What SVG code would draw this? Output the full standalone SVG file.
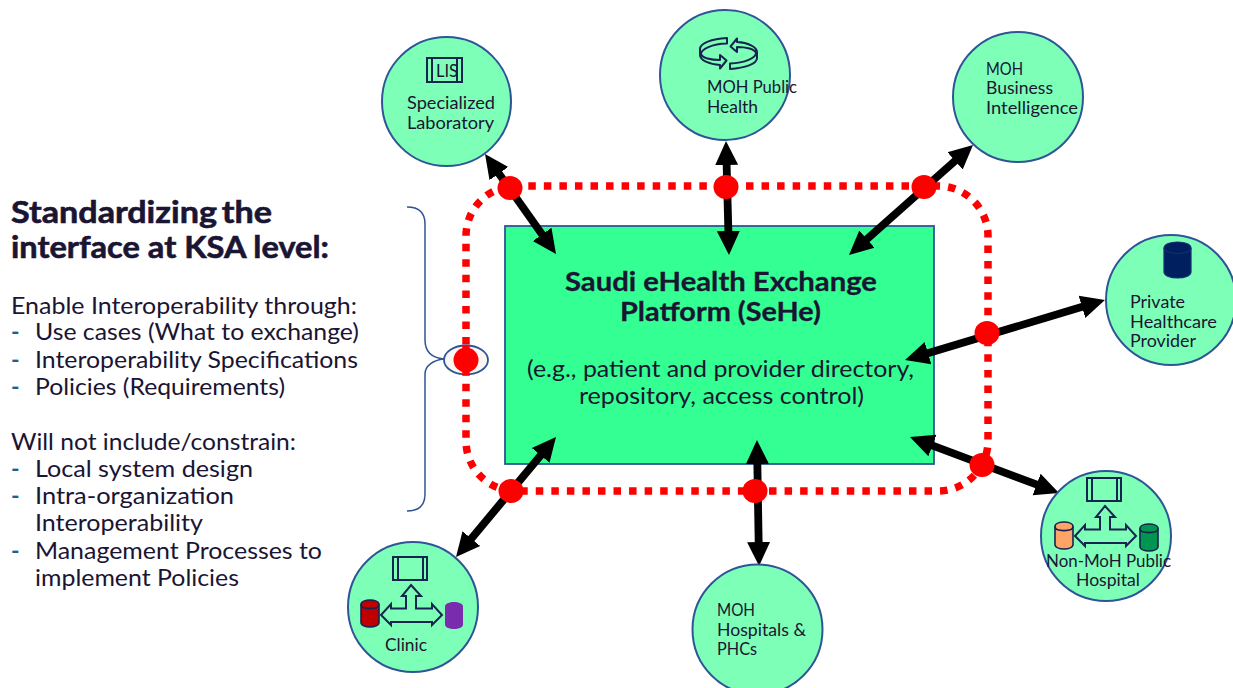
<svg xmlns="http://www.w3.org/2000/svg" xmlns:xlink="http://www.w3.org/1999/xlink" width="1233" height="688" viewBox="0 0 1233 688">
<style>
text{font-family:"Lato","Noto Sans","Liberation Sans",sans-serif;fill:#1a1533}
.c{fill:#7dffb8;stroke:#2f5597;stroke-width:2}
.l{font-size:17px}
.b{font-size:23px}
.m{font-size:23px;fill:#1f5f8f;font-weight:700}
.h{font-size:30px;font-weight:700;stroke:#1a1533;stroke-width:.6}
.t{font-size:27px;font-weight:700;stroke:#1a1533;stroke-width:.3}
.s{font-size:24px}
.i{fill:none;stroke:#16244f;stroke-width:2}
.cy{stroke:#16244f;stroke-width:1.600}
.a{fill:none;stroke:#000;stroke-width:7.800;marker-start:url(#ah);marker-end:url(#ah)}
.d{fill:#ff0000}
</style>
<defs>
<marker id="ah" markerUnits="userSpaceOnUse" markerWidth="26" markerHeight="26" viewBox="0 0 26 26" refX="9" refY="13" orient="auto-start-reverse"><path d="M0,1.500 L24,13 L0,24.500 Z" fill="#000"/></marker>
<g id="hub">
<rect class="i" x="393" y="557" width="34" height="23"/>
<path class="i" d="M398,557V580M423,557V580"/>
<path class="i" d="M411,585L421,596H416V608.500H432V604L442,615L432,625V622H391V625L381,615L391,604V608.500H406V596H402Z"/>
</g>
<g id="cyl"><path d="M0,4.500C0,-1.500 18,-1.500 18,4.500V22.500C18,28.500 0,28.500 0,22.500Z"/><path d="M0,4.500C0,10 18,10 18,4.500" fill="none"/></g>
</defs>
<g id="boundary">
<rect x="466" y="186" width="522" height="305" rx="50" ry="50" fill="none" stroke="#ff0000" stroke-width="7.500" stroke-dasharray="7.500 8.050" stroke-dashoffset="3.250"/>
</g>
<g id="platform">
<rect x="505" y="226" width="429" height="238" fill="#33ff92" stroke="#2f5597" stroke-width="1.800"/>
<text class="t" x="565" y="291" textLength="312" lengthAdjust="spacingAndGlyphs">Saudi eHealth Exchange</text>
<text class="t" x="620" y="321" textLength="201" lengthAdjust="spacingAndGlyphs">Platform (SeHe)</text>
<text class="s" x="527" y="377" textLength="387" lengthAdjust="spacingAndGlyphs">(e.g., patient and provider directory,</text>
<text class="s" x="579" y="404" textLength="285" lengthAdjust="spacingAndGlyphs">repository, access control)</text>
</g>
<g id="connectors">
<path class="a" d="M493.700,166.200L547.300,241.800"/>
<path class="a" d="M726.400,156L728.600,240"/>
<path class="a" d="M961.800,154.900L860.200,245.100"/>
<path class="a" d="M1090.600,304.300L919.400,355.700"/>
<path class="a" d="M1045,487.700L924,442.300"/>
<path class="a" d="M757.200,455L758.800,551"/>
<path class="a" d="M546.400,448.500L465.600,545.500"/>
</g>
<g id="interface-points">
<ellipse class="d" cx="510" cy="188" rx="12.500" ry="12"/>
<ellipse class="d" cx="726" cy="187" rx="12.500" ry="12"/>
<ellipse class="d" cx="924" cy="187" rx="12.500" ry="12"/>
<ellipse class="d" cx="987" cy="333" rx="12.500" ry="12"/>
<ellipse class="d" cx="982" cy="465" rx="12.500" ry="12"/>
<ellipse class="d" cx="755" cy="491" rx="12.500" ry="12"/>
<ellipse class="d" cx="511" cy="491" rx="12.500" ry="12"/>
</g>
<g id="bracket">
<path d="M407,207C419,207 425,212 425,224V340C425,353 433,358 444,359C433,360 425,366 425,374V494C425,505 419,511 407,511" fill="none" stroke="#2f5597" stroke-width="1.500"/>
<ellipse cx="466" cy="360" rx="22" ry="14.500" fill="#fcf6f2" stroke="#2f5597" stroke-width="1.800"/>
<path d="M466,345V353M466,368V375" stroke="#ff0000" stroke-width="7.500"/>
<circle class="d" cx="466" cy="360" r="12.500"/>
</g>
<g id="node-lab">
<circle class="c" cx="446.500" cy="101.500" r="64.500"/>
<rect class="i" x="427" y="58" width="35" height="24"/>
<path class="i" d="M432,58V82M457,58V82"/>
<text x="436" y="77" font-size="17" textLength="22" lengthAdjust="spacingAndGlyphs">LIS</text>
<text class="l" x="407" y="109" textLength="88" lengthAdjust="spacingAndGlyphs">Specialized</text>
<text class="l" x="407" y="129" textLength="87" lengthAdjust="spacingAndGlyphs">Laboratory</text>
</g>
<g id="node-public-health">
<circle class="c" cx="725" cy="75" r="65"/>
<g class="i" stroke-linejoin="round">
<path id="sw" d="M730.500,46.500L737,38.500V42C748,42.500 757,47 757,52V58C757,64 745,68 730,69V63.500C745,63 756,58 756,53C755,49 746,47 737,47V52Z"/>
<use xlink:href="#sw" href="#sw" transform="rotate(180 728.500 53.500)"/>
</g>
<text class="l" x="707" y="93" textLength="90" lengthAdjust="spacingAndGlyphs">MOH Public</text>
<text class="l" x="707" y="113" textLength="51" lengthAdjust="spacingAndGlyphs">Health</text>
</g>
<g id="node-bi">
<circle class="c" cx="1018" cy="97" r="65"/>
<text class="l" x="986" y="75" textLength="37" lengthAdjust="spacingAndGlyphs">MOH</text>
<text class="l" x="986" y="94" textLength="67" lengthAdjust="spacingAndGlyphs">Business</text>
<text class="l" x="986" y="114" textLength="92" lengthAdjust="spacingAndGlyphs">Intelligence</text>
</g>
<g id="node-private">
<circle class="c" cx="1171" cy="300" r="65"/>
<use xlink:href="#cyl" href="#cyl" transform="translate(1164 242) scale(1.500 1.330)" fill="#001f5f" stroke="#16306f" stroke-width="0.800"/>
<text class="l" x="1130" y="308" textLength="55" lengthAdjust="spacingAndGlyphs">Private</text>
<text class="l" x="1130" y="328" textLength="87" lengthAdjust="spacingAndGlyphs">Healthcare</text>
<text class="l" x="1130" y="347" textLength="66" lengthAdjust="spacingAndGlyphs">Provider</text>
</g>
<g id="node-non-moh">
<circle class="c" cx="1106" cy="536" r="65"/>
<use xlink:href="#hub" href="#hub" transform="translate(694 -79)"/>
<use class="cy" xlink:href="#cyl" href="#cyl" transform="translate(1055 522)" fill="#ffa366"/>
<use class="cy" xlink:href="#cyl" href="#cyl" transform="translate(1140 524)" fill="#00964f"/>
<text class="l" x="1046" y="567" textLength="125" lengthAdjust="spacingAndGlyphs">Non-MoH Public</text>
<text class="l" x="1076" y="586" textLength="64" lengthAdjust="spacingAndGlyphs">Hospital</text>
</g>
<g id="node-moh-hospitals">
<circle class="c" cx="757.500" cy="629.500" r="65"/>
<text class="l" x="717" y="616" textLength="38" lengthAdjust="spacingAndGlyphs">MOH</text>
<text class="l" x="717" y="636" textLength="89" lengthAdjust="spacingAndGlyphs">Hospitals &amp;</text>
<text class="l" x="717" y="655" textLength="40" lengthAdjust="spacingAndGlyphs">PHCs</text>
</g>
<g id="node-clinic">
<circle class="c" cx="413" cy="607" r="65"/>
<use xlink:href="#hub" href="#hub"/>
<use class="cy" xlink:href="#cyl" href="#cyl" transform="translate(361 600)" fill="#c00000"/>
<use xlink:href="#cyl" href="#cyl" transform="translate(445 602)" fill="#7a2cae"/>
<text class="l" x="385" y="651" textLength="42" lengthAdjust="spacingAndGlyphs">Clinic</text>
</g>
<g id="side-text">
<text class="h" x="11" y="223" textLength="261" lengthAdjust="spacingAndGlyphs" word-spacing="-3">Standardizing the</text>
<text class="h" x="11" y="258" textLength="318" lengthAdjust="spacingAndGlyphs">interface at KSA level:</text>
<text class="b" x="11" y="314" textLength="346" lengthAdjust="spacingAndGlyphs">Enable Interoperability through:</text>
<text class="m" x="11" y="340">-</text><text class="b" x="35" y="340" textLength="324" lengthAdjust="spacingAndGlyphs">Use cases (What to exchange)</text>
<text class="m" x="11" y="368">-</text><text class="b" x="35" y="368" textLength="323" lengthAdjust="spacingAndGlyphs">Interoperability Specifications</text>
<text class="m" x="11" y="395">-</text><text class="b" x="35" y="395" textLength="250" lengthAdjust="spacingAndGlyphs">Policies (Requirements)</text>
<text class="b" x="11" y="450" textLength="285" lengthAdjust="spacingAndGlyphs">Will not include/constrain:</text>
<text class="m" x="11" y="477">-</text><text class="b" x="35" y="477" textLength="218" lengthAdjust="spacingAndGlyphs">Local system design</text>
<text class="m" x="11" y="504">-</text><text class="b" x="35" y="504" textLength="199" lengthAdjust="spacingAndGlyphs">Intra-organization</text>
<text class="b" x="35" y="531" textLength="168" lengthAdjust="spacingAndGlyphs">Interoperability</text>
<text class="m" x="11" y="559">-</text><text class="b" x="35" y="559" textLength="287" lengthAdjust="spacingAndGlyphs">Management Processes to</text>
<text class="b" x="35" y="586" textLength="204" lengthAdjust="spacingAndGlyphs">implement Policies</text>
</g>
</svg>
